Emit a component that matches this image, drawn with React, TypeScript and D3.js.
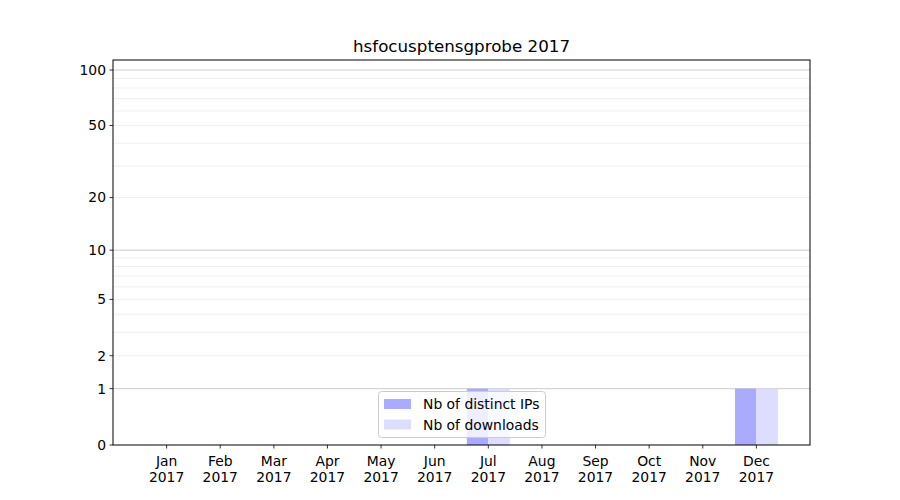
import React from "react";
import * as d3 from "d3";

const title = "hsfocusptensgprobe 2017";
const months = ["Jan", "Feb", "Mar", "Apr", "May", "Jun", "Jul", "Aug", "Sep", "Oct", "Nov", "Dec"];
const yearLabel = "2017";
const distinctIPs = [0, 0, 0, 0, 0, 0, 1, 0, 0, 0, 0, 1];
const downloads = [0, 0, 0, 0, 0, 0, 1, 0, 0, 0, 0, 1];
const yTicks = [0, 1, 2, 5, 10, 20, 50, 100];
const majorGrid = [1, 10, 100];
const minorGrid = [2, 3, 4, 5, 6, 7, 8, 9, 20, 30, 40, 50, 60, 70, 80, 90];
const seriesNames = ["Nb of distinct IPs", "Nb of downloads"];
const seriesColors = ["#aaaaff", "#ddddff"];

const W = 900, H = 500;
const L = 113, R = 810, T = 60, B = 445;
const yMax = Math.pow(10, (B - T) / 187.1) - 1;

export default function App() {
  const x = d3.scaleLinear().domain([-1, 12]).range([L, R]);
  const t = (v: number) => Math.log10(1 + v);
  const yLin = d3.scaleLinear().domain([0, t(yMax)]).range([B, T]);
  const y = (v: number) => yLin(t(v));
  const bw = x(0.4) - x(0);
  const font = "DejaVu Sans, sans-serif";
  const fs = 13.9;

  return (
    <div style={{ position: "absolute", left: 0, top: 0 }}>
      <svg width={W} height={H} style={{ display: "block", background: "#fff" }} fontFamily={font}>
        <rect x={0} y={0} width={W} height={H} fill="#fff" />
        {minorGrid.map((v) => (
          <line key={"mi" + v} x1={L} x2={R} y1={y(v)} y2={y(v)} stroke="#ebebeb" strokeWidth={0.8} />
        ))}
        {majorGrid.map((v) => (
          <line key={"ma" + v} x1={L} x2={R} y1={y(v)} y2={y(v)} stroke="#cccccc" strokeWidth={1} />
        ))}
        {distinctIPs.map((v, i) =>
          v > 0 ? (
            <rect key={"ip" + i} x={x(i) - bw} y={y(v)} width={bw} height={B - y(v)} fill={seriesColors[0]} />
          ) : null
        )}
        {downloads.map((v, i) =>
          v > 0 ? (
            <rect key={"dl" + i} x={x(i)} y={y(v)} width={bw} height={B - y(v)} fill={seriesColors[1]} />
          ) : null
        )}
        <rect x={L} y={T} width={R - L} height={B - T} fill="none" stroke="#000" strokeWidth={1} />
        {yTicks.map((v) => (
          <g key={"yt" + v}>
            <line x1={L - 3.5} x2={L} y1={y(v)} y2={y(v)} stroke="#000" strokeWidth={0.8} />
            <text x={L - 7} y={y(v)} dy="0.35em" textAnchor="end" fontSize={fs}>
              {v}
            </text>
          </g>
        ))}
        {months.map((m, i) => (
          <g key={"xt" + m}>
            <line x1={x(i)} x2={x(i)} y1={B} y2={B + 3.5} stroke="#000" strokeWidth={0.8} />
            <text x={x(i)} y={466} textAnchor="middle" fontSize={fs}>
              {m}
            </text>
            <text x={x(i)} y={482} textAnchor="middle" fontSize={fs}>
              {yearLabel}
            </text>
          </g>
        ))}
        <text x={(L + R) / 2} y={52} textAnchor="middle" fontSize={16.7}>
          {title}
        </text>
        <g>
          <rect x={378.5} y={391.5} width={167} height={46} rx={3} fill="#fff" fillOpacity={0.8} stroke="#cccccc" />
          {seriesNames.map((n, i) => (
            <g key={n}>
              <rect x={384} y={399 + i * 20.5} width={27} height={10} fill={seriesColors[i]} />
              <text x={423} y={409 + i * 20.5} fontSize={fs}>
                {n}
              </text>
            </g>
          ))}
        </g>
      </svg>
    </div>
  );
}
